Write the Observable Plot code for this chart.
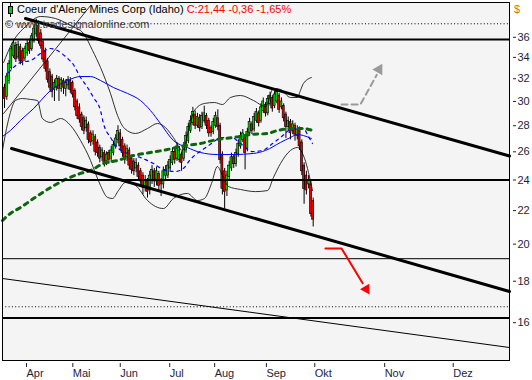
<!DOCTYPE html>
<html><head><meta charset="utf-8">
<script src="https://cdn.jsdelivr.net/npm/d3@7"></script>
<script src="https://cdn.jsdelivr.net/npm/@observablehq/plot@0.6"></script>
<style>
html,body{margin:0;padding:0;background:#fff;}
#wrap{position:relative;width:532px;height:380px;font-family:"Liberation Sans",Arial,sans-serif;font-size:11px;overflow:hidden;}
#wrap svg.chart{position:absolute;left:0;top:0;}
.ov{position:absolute;white-space:nowrap;line-height:13px;}
</style></head><body><div id="wrap"></div>
<script>
// ---- candles (daily bars, index 0 = mid March) ----
const opens = [
31.2,30.4,31.8,33.0,34.1,35.1,34.0,35.0,34.6,33.9,
34.4,35.4,34.8,35.6,36.3,37.2,36.4,35.5,34.6,33.6,
32.6,32.2,31.0,31.2,32.0,31.1,31.8,31.1,31.4,31.8,
31.6,30.9,30.0,29.5,28.9,28.6,27.8,28.1,27.4,26.8,
27.1,26.7,26.3,25.6,25.9,25.3,25.9,25.5,25.9,26.4,
26.9,27.4,26.9,26.4,25.6,26.1,25.5,25.3,24.8,25.0,
24.6,24.3,23.6,23.9,23.3,24.0,24.6,23.9,24.4,23.9,
23.7,24.3,24.3,24.8,25.2,26.0,25.5,25.4,25.8,25.5,
26.1,26.8,27.6,28.2,28.9,28.0,28.6,27.9,28.4,28.8,
28.4,27.8,27.5,28.0,28.6,28.0,25.8,24.6,23.3,24.2,
24.8,25.6,25.1,25.8,26.4,26.9,27.1,26.2,27.4,28.1,
27.7,28.4,29.0,28.4,29.2,29.7,29.0,29.8,30.3,29.6,
30.0,30.5,29.5,29.6,28.9,27.9,28.3,27.6,28.0,27.2,
27.7,26.7,25.0,24.3,23.7,23.7,22.6];
const closes = [
30.2,32.2,33.4,34.8,35.4,33.8,35.2,33.6,33.6,34.8,
35.3,34.6,36.1,36.9,37.5,35.6,35.1,33.8,32.9,31.9,
31.2,30.8,31.6,32.0,31.1,31.9,31.2,31.6,31.9,31.0,
30.6,29.5,28.8,28.5,27.9,27.6,28.4,26.9,26.7,27.3,
26.0,25.9,25.5,26.1,25.2,25.8,25.4,26.1,26.5,27.0,
27.6,26.4,25.9,25.4,26.2,25.0,24.7,24.6,25.2,24.2,
23.9,23.5,24.0,23.2,24.3,24.7,23.9,24.6,23.6,23.7,
24.6,24.7,25.0,25.4,26.0,25.4,26.4,26.1,25.2,26.4,
27.2,27.9,28.4,29.1,28.0,28.7,27.8,28.8,29.0,28.0,
27.4,27.4,28.3,28.8,27.9,25.4,23.4,23.2,24.3,25.0,
25.6,25.1,25.9,26.6,27.2,27.4,25.9,27.5,28.3,27.6,
28.7,29.1,28.2,29.5,30.0,29.0,30.2,30.5,29.4,30.6,
30.8,29.3,30.0,28.6,27.9,28.4,27.4,28.1,27.3,27.7,
26.4,24.6,23.4,23.3,24.0,21.8,21.44];
const highs = [
31.5,32.5,33.7,35.1,35.7,35.5,35.6,35.3,34.9,35.1,
35.7,35.8,36.4,37.3,37.9,37.7,36.8,35.8,34.9,33.9,
32.9,32.4,31.9,32.3,32.2,32.1,32.0,31.9,32.2,32.1,
31.8,31.1,30.2,29.8,29.1,28.8,28.7,28.3,27.6,27.6,
27.3,26.9,26.5,26.3,26.1,26.0,26.1,26.4,26.8,27.3,
28.0,27.7,27.1,26.6,26.5,26.3,25.7,25.5,25.5,25.2,
24.8,24.5,24.3,24.1,24.6,25.0,24.8,24.9,24.6,24.1,
24.9,25.0,25.3,25.7,26.3,26.2,26.7,26.4,26.0,26.7,
27.5,28.2,28.8,29.5,29.2,29.0,28.9,29.1,29.6,29.0,
28.6,28.0,28.6,29.1,29.3,28.2,26.0,24.8,24.6,25.3,
25.9,25.8,26.2,26.9,27.5,27.7,27.3,27.8,28.6,28.3,
29.0,29.4,29.2,29.8,30.3,29.9,30.5,30.8,30.5,30.9,
31.0,30.7,30.3,29.8,29.1,28.7,28.5,28.4,28.2,28.0,
27.9,26.9,25.2,24.6,24.3,24.0,22.8];
const lows = [
29.4,30.1,31.5,32.8,33.9,33.5,33.8,33.3,33.2,33.6,
34.1,34.3,34.6,35.4,36.0,35.3,34.8,33.5,32.6,31.6,
30.9,30.3,30.0,30.9,30.0,30.8,30.6,30.4,31.0,30.7,
30.3,29.2,28.5,28.2,27.6,27.3,27.5,26.6,26.4,26.5,
25.7,25.6,25.2,25.3,24.9,25.0,25.1,25.2,25.7,26.2,
26.6,26.1,25.6,25.1,25.3,24.7,24.4,24.3,24.5,23.9,
23.6,23.0,23.2,22.8,23.0,23.7,23.5,23.6,23.2,22.9,
23.4,24.0,24.1,24.6,25.0,25.1,25.3,25.2,24.6,25.3,
25.9,26.6,27.4,28.0,27.7,27.8,27.5,27.7,28.2,27.7,
27.1,27.1,27.3,27.8,27.6,25.1,23.0,22.1,22.9,24.0,
24.6,24.8,24.9,25.6,26.2,26.7,24.7,26.0,27.2,27.3,
27.5,28.2,27.9,28.2,29.0,28.7,28.8,29.6,29.1,29.4,
29.8,29.0,29.3,28.3,27.0,27.6,26.9,27.3,26.8,26.9,
26.1,24.3,22.4,23.0,23.4,21.6,21.0];

// ---- indicators (bar index, price) ----
const ma200Idx = [-0.9,2.6,7.0,12.8,20.3,26.0,33.5,37.9,43.6,49.8,56.8,64.3,71.8,77.5,86.3,93.8,100.9,108.4,115.9,120.3,127.3,131.7,135.7];
const ma200Val = [21.39,21.82,22.19,22.77,23.49,23.97,24.45,24.66,25.15,25.37,25.73,25.95,26.17,26.40,26.62,26.93,27.08,27.31,27.39,27.62,27.78,27.78,27.62];

const ma50Idx = [-0.9,2.6,7.0,12.8,20.3,27.8,33.5,37.9,42.3,48.0,54.2,59.9,64.3,68.7,74.4,80.6,86.3,93.8,100.9,109.7,115.0,121.6,126.0,129.1,131.7,135.2];
const ma50Val = [27.16,27.62,28.42,29.40,30.95,31.84,32.20,32.20,31.84,31.21,30.69,30.08,29.24,28.18,26.85,26.32,25.95,25.80,25.80,25.88,26.10,26.70,27.08,27.31,27.23,27.00];

const ma20Idx = [1.8,7.0,11.5,15.9,20.3,23.3,27.8,30.0,33.5,36.6,39.2,42.3,43.6,46.7,49.8,54.2,59.9,65.6,70.9,75.3,79.3,81.5,83.7,86.8,91.2,95.6,100.0,104.0,109.3,113.7,118.1,121.6,127.3,131.7,133.9,135.7];
const ma20Val = [32.57,33.51,33.70,34.38,34.87,34.67,33.89,33.42,32.11,31.21,30.34,29.24,28.18,27.08,26.32,25.88,25.58,25.15,24.66,24.59,24.87,25.37,25.73,26.10,26.62,27.08,27.08,26.62,26.02,26.10,26.62,27.08,27.78,27.78,27.16,26.62];

const bbUpIdx = [-0.4,3.5,9.3,15.9,22.5,29.1,34.8,38.8,42.3,46.7,49.8,52.9,57.7,63.0,67.4,70.9,74.4,78.4,81.1,83.7,88.1,92.5,96.0,99.6,104.0,109.7,115.0,118.5,121.6,126.0,129.1,130.4,131.7,135.2];
const bbUpVal = [33.51,35.47,37.12,38.19,37.97,37.22,36.39,34.67,33.04,30.69,28.83,27.78,27.39,27.78,28.18,27.86,27.08,26.10,27.62,29.24,29.83,29.91,29.74,30.34,30.51,30.08,29.57,31.13,31.04,30.34,30.34,30.95,31.57,32.11];

const bbLoIdx = [-0.9,0.9,2.6,4.8,7.9,11.5,14.5,16.7,20.3,24.7,29.1,33.5,37.9,40.1,42.3,45.4,47.6,50.2,53.3,57.7,63.0,66.5,70.0,74.4,80.6,85.0,88.1,91.2,93.8,96.0,98.7,104.0,110.6,115.9,118.5,121.6,126.0,129.1,132.2,135.7];
const bbLoVal = [26.10,27.78,29.07,30.08,30.25,30.17,30.08,28.58,28.26,28.58,28.02,26.85,25.37,24.45,23.63,22.84,22.77,23.29,23.83,23.63,22.64,22.26,22.13,22.77,23.10,22.64,22.77,23.76,24.94,24.31,23.56,23.36,23.22,23.29,24.17,25.15,26.10,26.32,25.51,23.29];

// ---- drawn lines and levels ----
const diagIdx = [-0.4, 37.9];
const diagVal = [28.99, 39.4];
const chanUpIdx = [9.25, 222.5];
const chanUpVal = [37.97, 25.69];
const chanLoIdx = [3.1, 222.5];
const chanLoVal = [26.25, 17.48];
const thinLoIdx = [-0.9, 222.5];
const thinLoVal = [18.14, 14.91];
const levelsThick = [35.77, 24, 16.21];
const levelsThin = [19.19];
const levelsDotted = [37.41, 16.74];

// ---- forecast arrows ----
const upArrowIdx = [148.5, 156.8, 164.0];
const upArrowVal = [29.74, 29.74, 32.35];
const upHeadIdx = [165.0];
const upHeadVal = [32.85];
const downArrowIdx = [141.4, 148.5, 157.8];
const downArrowVal = [19.76, 19.76, 17.90];
const downHeadIdx = [159.4];
const downHeadVal = [17.60];

// ---- axes ----
const monthTicks = [9.7, 30.1, 51, 72.8, 92.6, 115.4, 136.7, 167.5, 197.7];
const monthLabels = ["Apr","Mai","Jun","Jul","Aug","Sep","Okt","Nov","Dez"];
const yTicks = [16,18,20,22,24,26,28,30,32,34,36];

const bars = opens.map((o, k) => ({i: k, open: o, close: closes[k], high: highs[k], low: lows[k]}));
const pts = (xs, ys) => xs.map((x, k) => ({i: x, p: ys[k]}));
const GREEN = "#00d200", RED = "#e80000", AXC = "#1e1e3c";

const chart = Plot.plot({
  width: 532, height: 380,
  marginLeft: 2, marginRight: 23, marginTop: 2, marginBottom: 20,
  style: {fontFamily: "'Liberation Sans', Arial, sans-serif", fontSize: "11px", background: "transparent", overflow: "visible"},
  x: {type: "linear", domain: [-0.88, 222.5], label: null},
  y: {type: "log", domain: [14.37, 39.74], label: null},
  color: {type: "identity"},
  marks: [
    Plot.frame({fill: "#f4f4f4", stroke: null}),
    // candles
    Plot.ruleX(bars, {x: "i", y1: "low", y2: "high", stroke: "#000", strokeWidth: 1}),
    Plot.rect(bars, {x1: d => d.i - 0.45, x2: d => d.i + 0.45, y1: "open", y2: "close",
      fill: d => d.close >= d.open ? GREEN : RED, stroke: "#000", strokeWidth: 0.6}),
    // bollinger bands
    Plot.line(pts(bbUpIdx, bbUpVal), {x: "i", y: "p", stroke: "#000", strokeWidth: 0.8, curve: "monotone-x"}),
    Plot.line(pts(bbLoIdx, bbLoVal), {x: "i", y: "p", stroke: "#000", strokeWidth: 0.8, curve: "monotone-x"}),
    Plot.line(pts(diagIdx, diagVal), {x: "i", y: "p", stroke: "#000", strokeWidth: 0.8}),
    // moving averages
    Plot.line(pts(ma50Idx, ma50Val), {x: "i", y: "p", stroke: "#0000ff", strokeWidth: 1, curve: "monotone-x"}),
    Plot.line(pts(ma20Idx, ma20Val), {x: "i", y: "p", stroke: "#0000ff", strokeWidth: 1.2, strokeDasharray: "3,4", curve: "monotone-x"}),
    Plot.line(pts(ma200Idx, ma200Val), {x: "i", y: "p", stroke: "#0b660b", strokeWidth: 3, strokeDasharray: "4,5", curve: "monotone-x"}),
    // horizontal levels
    Plot.ruleY(levelsDotted, {stroke: "#000", strokeWidth: 1, strokeDasharray: "1,2.3"}),
    Plot.ruleY(levelsThin, {stroke: "#000", strokeWidth: 1}),
    Plot.ruleY(levelsThick, {stroke: "#000", strokeWidth: 2}),
    // channel lines
    Plot.line(pts(chanUpIdx, chanUpVal), {x: "i", y: "p", stroke: "#000", strokeWidth: 3}),
    Plot.line(pts(chanLoIdx, chanLoVal), {x: "i", y: "p", stroke: "#000", strokeWidth: 3}),
    Plot.line(pts(thinLoIdx, thinLoVal), {x: "i", y: "p", stroke: "#000", strokeWidth: 1}),
    // arrows
    Plot.line(pts(upArrowIdx, upArrowVal), {x: "i", y: "p", stroke: "#9a9a9a", strokeWidth: 2, strokeDasharray: "6,4"}),
    Plot.dot(pts(upHeadIdx, upHeadVal), {x: "i", y: "p", symbol: "triangle", r: 4.3, fill: "#9a9a9a", stroke: null, rotate: 30}),
    Plot.line(pts(downArrowIdx, downArrowVal), {x: "i", y: "p", stroke: "#ff0000", strokeWidth: 2}),
    Plot.dot(pts(downHeadIdx, downHeadVal), {x: "i", y: "p", symbol: "triangle", r: 4, fill: "#ff0000", stroke: null, rotate: 148}),
    // axes
    Plot.axisY({anchor: "right", ticks: yTicks, tickFormat: d => String(d), tickSize: 3, dx: 3, tickPadding: 2,
      stroke: AXC, fill: AXC, fontSize: 11, label: null}),
    Plot.axisX({anchor: "bottom", ticks: monthTicks, tickFormat: d => monthLabels[monthTicks.indexOf(d)],
      tickSize: 4, dy: 3, tickPadding: 2, textAnchor: "start", stroke: AXC, fill: AXC, fontSize: 11, label: null}),
    Plot.frame({stroke: "#000", strokeWidth: 1})
  ]
});
chart.classList.add("chart");
const wrap = document.getElementById("wrap");
wrap.appendChild(chart);

// header texts over the chart
const icon = document.createElement("div");
icon.className = "ov";
icon.style.left = "7px"; icon.style.top = "2px";
icon.innerHTML = '<svg width="8" height="16"><line x1="3.5" y1="1" x2="3.5" y2="15" stroke="#000" stroke-width="1"/><rect x="1.5" y="4.5" width="4" height="7" fill="#00d200" stroke="#000" stroke-width="1"/></svg>';
wrap.appendChild(icon);

const title = document.createElement("div");
title.className = "ov";
title.style.left = "17px"; title.style.top = "3px";
title.innerHTML = '<span style="color:#000">Coeur d\'Alene Mines Corp (Idaho)</span> <span style="color:#ff0000">C:21,44 -0,36 -1,65%</span>';
wrap.appendChild(title);

const copy = document.createElement("div");
copy.className = "ov";
copy.style.left = "5px"; copy.style.top = "18px"; copy.style.color = "#3c3c3c";
copy.textContent = "© www.tradesignalonline.com";
wrap.appendChild(copy);

const cur = document.createElement("div");
cur.className = "ov";
cur.style.left = "514px"; cur.style.top = "3px"; cur.style.color = "#c87800";
cur.textContent = "$";
wrap.appendChild(cur);
</script>
</body></html>
